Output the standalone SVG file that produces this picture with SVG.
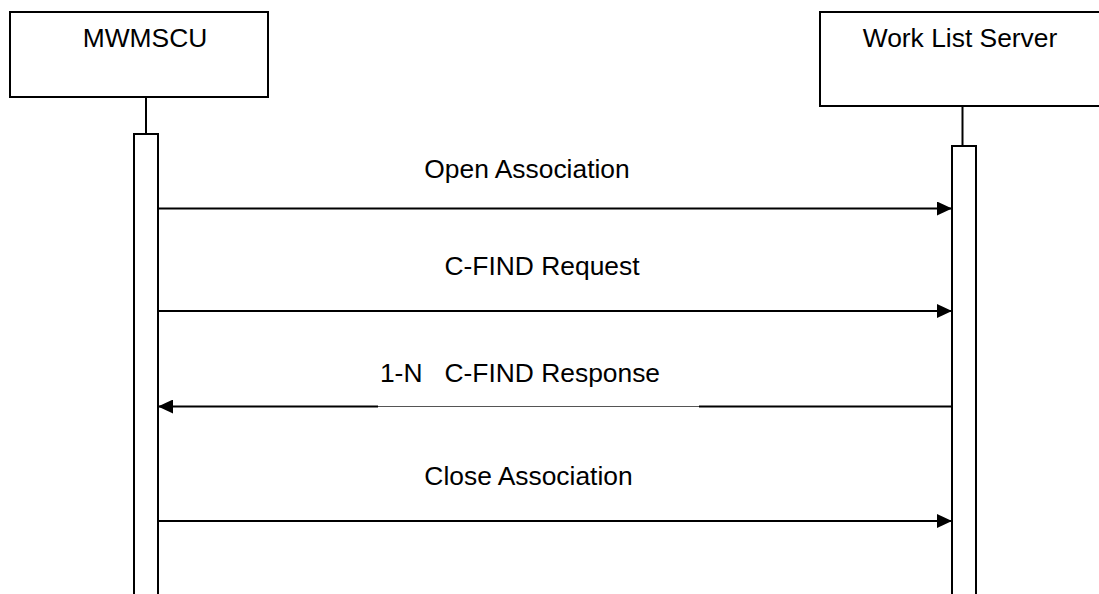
<svg xmlns="http://www.w3.org/2000/svg" width="1099" height="594" viewBox="0 0 1099 594">
<style>
.box{fill:#fff;stroke:#000;stroke-width:2}
.life{stroke:#000;stroke-width:2;fill:none}
.msg{stroke:#000;stroke-width:2;fill:none}
.thin{stroke:#555;stroke-width:1.2;fill:none}
text{font-family:"Liberation Sans",Arial,sans-serif;font-size:26.4px;fill:#000;text-anchor:middle}
</style>
<defs>
<marker id="ah" markerWidth="15" markerHeight="14" refX="15" refY="7" orient="auto" markerUnits="userSpaceOnUse">
<path d="M0,0 L15,7 L0,14 Z" fill="#000"/>
</marker>
</defs>
<rect width="1099" height="594" fill="#fff"/>
<g id="mwmscu">
<rect class="box" x="10" y="12" width="258" height="85"/>
<text x="145" y="47">MWMSCU</text>
<line class="life" x1="146" y1="97" x2="146" y2="134"/>
<rect class="box" x="134" y="134" width="24" height="470"/>
</g>
<g id="worklist">
<rect class="box" x="820" y="12" width="300" height="94"/>
<text x="960" y="47">Work List Server</text>
<line class="life" x1="962.5" y1="106" x2="962.5" y2="146"/>
<rect class="box" x="952" y="146" width="24" height="460"/>
</g>
<g id="connectors">
<line class="msg" x1="158" y1="208.5" x2="952" y2="208.5" marker-end="url(#ah)"/>
<text x="527" y="178">Open Association</text>
<line class="msg" x1="158" y1="311" x2="952" y2="311" marker-end="url(#ah)"/>
<text x="542" y="275">C-FIND Request</text>
<line class="msg" x1="952" y1="406.5" x2="699" y2="406.5"/>
<line class="thin" x1="699" y1="406.5" x2="378" y2="406.5"/>
<line class="msg" x1="378" y1="406.5" x2="158" y2="406.5" marker-end="url(#ah)"/>
<text x="520" y="382" xml:space="preserve">1-N   C-FIND Response</text>
<line class="msg" x1="158" y1="521" x2="952" y2="521" marker-end="url(#ah)"/>
<text x="528.5" y="485">Close Association</text>
</g>
</svg>
